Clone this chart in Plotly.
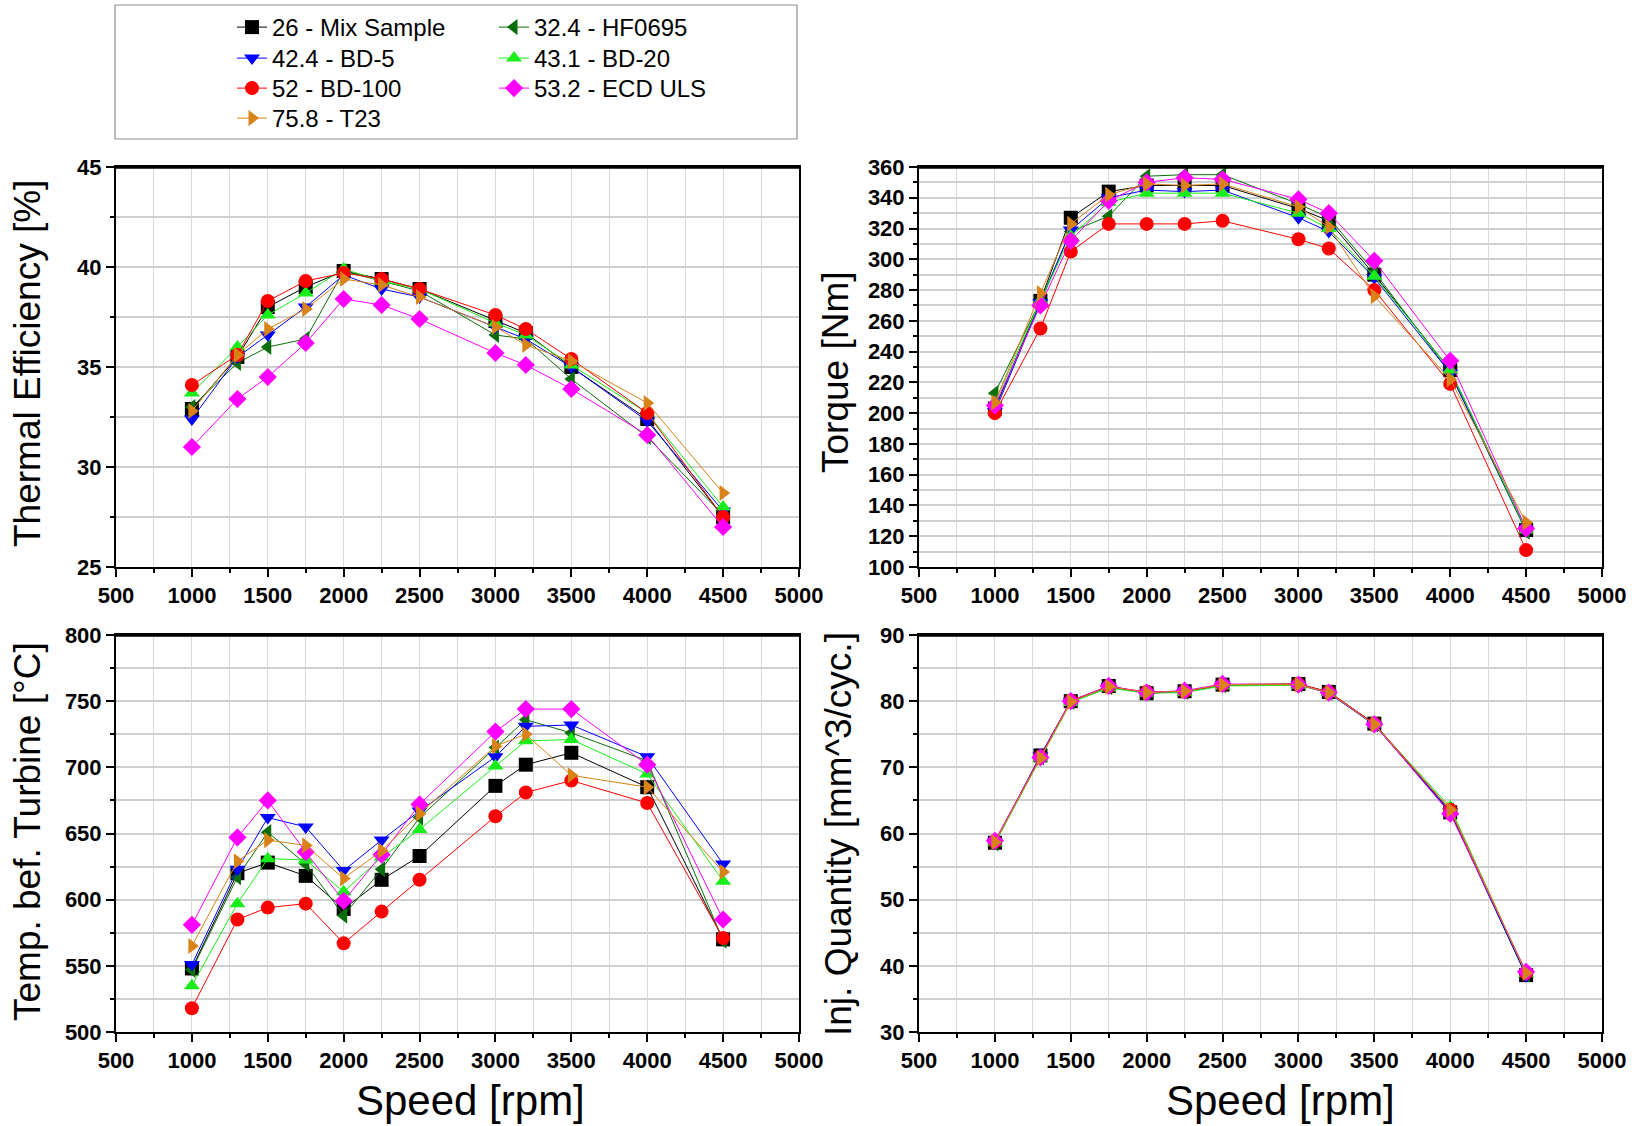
import plotly.graph_objects as go

# Engine speed operating points [rpm]
speed = [1000, 1300, 1500, 1750, 2000, 2250, 2500, 3000, 3200, 3500, 4000, 4500]

fuels = ["26 - Mix Sample", "32.4 - HF0695", "42.4 - BD-5", "43.1 - BD-20",
         "52 - BD-100", "53.2 - ECD ULS", "75.8 - T23"]

# Thermal efficiency [%]
thermal_eff = {
    "26 - Mix Sample": [32.9, 35.5, 38.0, 39.0, 39.8, 39.4, 38.9, 37.3, 36.7, 35.0, 32.4, 27.5],
    "32.4 - HF0695":   [33.0, 35.2, 36.0, 36.4, 39.8, 39.3, 38.8, 36.6, 36.4, 34.4, 31.5, 27.6],
    "42.4 - BD-5":     [32.4, 35.5, 36.6, 38.0, 39.6, 38.9, 38.5, 37.0, 36.4, 35.0, 32.3, 27.8],
    "43.1 - BD-20":    [33.7, 36.0, 37.6, 38.7, 39.9, 39.3, 38.9, 37.2, 36.6, 35.1, 32.7, 28.0],
    "52 - BD-100":     [34.1, 35.6, 38.3, 39.3, 39.7, 39.4, 38.9, 37.6, 36.9, 35.4, 32.7, 27.5],
    "53.2 - ECD ULS":  [31.0, 33.4, 34.5, 36.2, 38.4, 38.1, 37.4, 35.7, 35.1, 33.9, 31.6, 27.0],
    "75.8 - T23":      [32.8, 35.6, 36.9, 37.9, 39.4, 39.1, 38.5, 37.0, 36.1, 35.3, 33.2, 28.7],
}

# Torque [Nm]
torque = {
    "26 - Mix Sample": [203, 273, 327, 344, 348, 348, 348, 333, 325, 290, 228, 124],
    "32.4 - HF0695":   [213, 273, 318, 328, 354, 355, 355, 336, 327, 292, 226, 123],
    "42.4 - BD-5":     [201, 272, 319, 340, 345, 344, 345, 327, 318, 288, 226, 124],
    "43.1 - BD-20":    [207, 273, 315, 337, 343, 343, 343, 330, 320, 289, 228, 124],
    "52 - BD-100":     [200, 255, 305, 323, 323, 323, 325, 313, 307, 280, 219, 111],
    "53.2 - ECD ULS":  [205, 270, 312, 338, 350, 353, 352, 339, 330, 299, 234, 125],
    "75.8 - T23":      [207, 278, 323, 342, 349, 348, 349, 334, 321, 276, 222, 129],
}

# Exhaust temperature before turbine [°C]
temp_turbine = {
    "26 - Mix Sample": [548, 620, 628, 618, 593, 615, 633, 686, 702, 711, 685, 570],
    "32.4 - HF0695":   [547, 617, 651, 627, 588, 623, 662, 715, 736, 726, 705, 569],
    "42.4 - BD-5":     [551, 623, 662, 655, 622, 645, 667, 708, 731, 732, 708, 627],
    "43.1 - BD-20":    [535, 597, 631, 630, 606, 632, 653, 701, 720, 721, 695, 614],
    "52 - BD-100":     [518, 585, 594, 597, 567, 591, 615, 663, 681, 690, 673, 571],
    "53.2 - ECD ULS":  [581, 647, 675, 636, 599, 634, 672, 727, 744, 744, 702, 585],
    "75.8 - T23":      [565, 629, 645, 641, 616, 637, 665, 716, 725, 694, 685, 621],
}

# Injected fuel quantity [mm^3/cyc.]
inj_quantity = {
    "26 - Mix Sample": [58.6, 71.8, 80.0, 82.3, 81.2, 81.5, 82.5, 82.6, 81.4, 76.6, 63.2, 38.6],
    "32.4 - HF0695":   [58.5, 71.5, 79.9, 82.1, 81.3, 81.4, 82.4, 82.5, 81.3, 76.5, 63.5, 38.7],
    "42.4 - BD-5":     [58.7, 71.7, 80.0, 82.2, 81.2, 81.5, 82.5, 82.5, 81.2, 76.4, 63.3, 38.5],
    "43.1 - BD-20":    [58.6, 71.4, 79.8, 82.0, 81.2, 81.3, 82.3, 82.4, 81.3, 76.5, 64.0, 38.8],
    "52 - BD-100":     [58.8, 71.6, 80.1, 82.2, 81.4, 81.5, 82.5, 82.6, 81.4, 76.6, 63.6, 38.9],
    "53.2 - ECD ULS":  [58.9, 71.5, 80.0, 82.3, 81.3, 81.6, 82.6, 82.5, 81.3, 76.5, 63.0, 39.1],
    "75.8 - T23":      [58.7, 71.4, 79.9, 82.2, 81.3, 81.5, 82.5, 82.5, 81.3, 76.5, 63.6, 38.9],
}

colors = {
    "26 - Mix Sample": "#000000",
    "32.4 - HF0695": "#0a6e0a",
    "42.4 - BD-5": "#0000ff",
    "43.1 - BD-20": "#1aee1a",
    "52 - BD-100": "#ff0000",
    "53.2 - ECD ULS": "#ff00ff",
    "75.8 - T23": "#d98218",
}
symbols = {
    "26 - Mix Sample": "square",
    "32.4 - HF0695": "triangle-left",
    "42.4 - BD-5": "triangle-down",
    "43.1 - BD-20": "triangle-up",
    "52 - BD-100": "circle",
    "53.2 - ECD ULS": "diamond",
    "75.8 - T23": "triangle-right",
}
# legend slot of each fuel: (column, row)
legend_slot = {
    "26 - Mix Sample": (0, 0), "32.4 - HF0695": (1, 0),
    "42.4 - BD-5": (0, 1), "43.1 - BD-20": (1, 1),
    "52 - BD-100": (0, 2), "53.2 - ECD ULS": (1, 2),
    "75.8 - T23": (0, 3),
}

W, H = 1644, 1126
FONT = "Liberation Sans, Arial, Helvetica, sans-serif"

fig = go.Figure()

panels = [
    (thermal_eff, "x", "y"),
    (torque, "x2", "y2"),
    (temp_turbine, "x3", "y3"),
    (inj_quantity, "x4", "y4"),
]

legend_ids = {name: ("legend" if i == 0 else f"legend{i + 1}")
              for i, name in enumerate(fuels)}

for idx, (data, xa, ya) in enumerate(panels):
    for name in fuels:
        fig.add_trace(go.Scatter(
            x=speed, y=data[name], xaxis=xa, yaxis=ya,
            mode="lines+markers", name=name, legendgroup=name,
            legend=legend_ids[name], showlegend=(idx == 0),
            line=dict(color=colors[name], width=1),
            marker=dict(symbol=symbols[name], size=14, color=colors[name],
                        line=dict(width=0)),
        ))

# Panel placement in pixels: (left, right, top, bottom)
boxes = {
    "1": (116, 799, 167, 567),
    "2": (919, 1602, 167, 567),
    "3": (116, 799, 635, 1032),
    "4": (919, 1602, 635, 1032),
}
y_specs = {
    "1": dict(range=[25, 45], dtick=5, tick0=25, minor=2.5),
    "2": dict(range=[100, 360], dtick=20, tick0=100, minor=10),
    "3": dict(range=[500, 800], dtick=50, tick0=500, minor=25),
    "4": dict(range=[30, 90], dtick=10, tick0=30, minor=5),
}

tickfont = dict(family=FONT, size=22, color="black", weight="bold")
grid_col = "#d9d9d9"

for k, (l, r, t, b) in boxes.items():
    suffix = "" if k == "1" else k
    anchor_x = "y" if k == "1" else "y" + k
    anchor_y = "x" if k == "1" else "x" + k
    fig.layout["xaxis" + suffix] = dict(
        domain=[l / W, r / W], anchor=anchor_x, range=[500, 5000],
        tick0=500, dtick=500, ticks="outside", ticklen=8, tickwidth=1.5,
        tickcolor="black", showline=True, linecolor="black", linewidth=2,
        mirror=True, showgrid=True, gridcolor=grid_col, gridwidth=1,
        zeroline=False, tickfont=tickfont,
        minor=dict(dtick=250, tick0=500, ticks="outside", ticklen=4,
                   tickcolor="black", showgrid=True, gridcolor=grid_col,
                   gridwidth=1),
    )
    ys = y_specs[k]
    fig.layout["yaxis" + suffix] = dict(
        domain=[1 - b / H, 1 - t / H], anchor=anchor_y, range=ys["range"],
        tick0=ys["tick0"], dtick=ys["dtick"], ticks="outside", ticklen=8,
        tickwidth=1.5, tickcolor="black", showline=True, linecolor="black",
        linewidth=2, mirror=True, showgrid=True, gridcolor="#cfcfcf",
        gridwidth=1.5, zeroline=False, tickfont=tickfont,
        minor=dict(dtick=ys["minor"], tick0=ys["tick0"], ticks="outside",
                   ticklen=4, tickcolor="black", showgrid=True,
                   gridcolor="#cfcfcf", gridwidth=1.5),
    )
    # heavier top frame edge
    fig.add_shape(type="line", xref="paper", yref="paper",
                  x0=l / W, x1=r / W, y0=1 - t / H, y1=1 - t / H,
                  line=dict(color="black", width=3.5), layer="above")

# Axis titles
axis_titles = [
    ("Thermal Efficiency [%]", 27, 364, -90, 37),
    ("Torque [Nm]", 835, 372, -90, 37),
    ("Temp. bef. Turbine [°C]", 27, 832, -90, 37),
    ("Inj. Quantity [mm^3/cyc.]", 838, 834, -90, 37),
    ("Speed [rpm]", 470, 1100, 0, 42),
    ("Speed [rpm]", 1280, 1100, 0, 42),
]
for text, px, py, ang, sz in axis_titles:
    fig.add_annotation(text=text, xref="paper", yref="paper",
                       x=px / W, y=1 - py / H, xanchor="center",
                       yanchor="middle", textangle=ang, showarrow=False,
                       font=dict(family=FONT, size=sz, color="black"))

# Legend frame
fig.add_shape(type="rect", xref="paper", yref="paper",
              x0=115 / W, x1=797 / W, y0=1 - 139 / H, y1=1 - 5 / H,
              line=dict(color="#8c8c8c", width=1.2), fillcolor="rgba(0,0,0,0)")

# One single-entry legend per fuel, laid out on a 2-column grid
col_x = [232, 494]
row_top = [5, 36, 66, 96]
legend_layout = {}
for name in fuels:
    c, r = legend_slot[name]
    legend_layout[legend_ids[name]] = dict(
        x=col_x[c] / W, y=1 - row_top[r] / H, xanchor="left", yanchor="top",
        font=dict(family=FONT, size=24, color="black"),
        bgcolor="rgba(0,0,0,0)", borderwidth=0, orientation="v",
        itemsizing="trace",
    )

fig.update_layout(
    width=W, height=H,
    margin=dict(l=0, r=0, t=0, b=0, autoexpand=False),
    paper_bgcolor="white", plot_bgcolor="white",
    font=dict(family=FONT, color="black"),
    **legend_layout,
)

fig.write_html("out.html")
